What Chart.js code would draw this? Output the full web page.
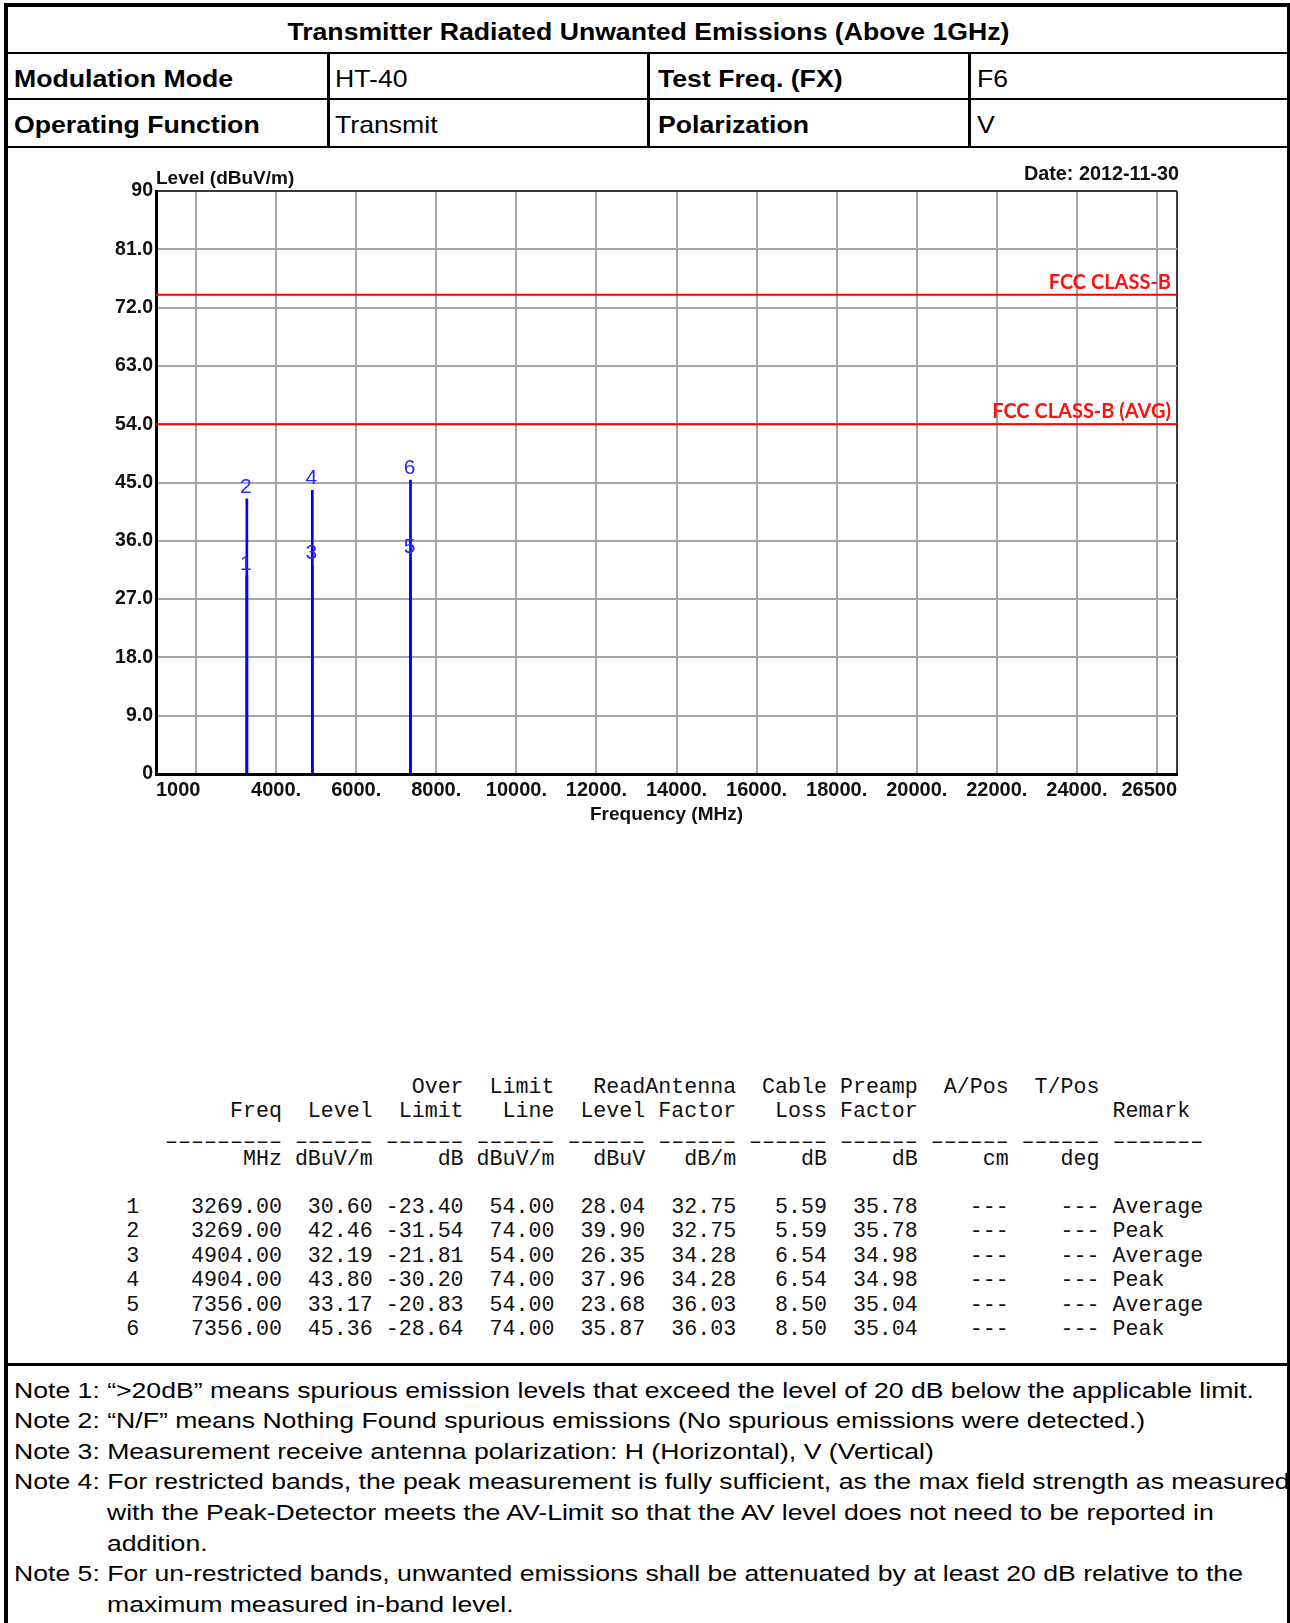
<!DOCTYPE html>
<html>
<head>
<meta charset="utf-8">
<title>Transmitter Radiated Unwanted Emissions (Above 1GHz)</title>
<script src="https://cdn.jsdelivr.net/npm/chart.js@4.4.1/dist/chart.umd.min.js"></script>
<style>
  html, body { margin: 0; padding: 0; background: #fff; }
  #page { position: relative; width: 1290px; height: 1623px; overflow: hidden; background: #fff; }
  .rule { position: absolute; background: #000; z-index: 3; }
  .txt { position: absolute; white-space: pre; color: #000; line-height: 26px; z-index: 2;
         font-family: "Liberation Sans", Arial, sans-serif; }
  .hd-b { font-size: 24px; font-weight: bold; }
  .hd-r { font-size: 24px; }
  .note { font-size: 22px; }
  .mono { font-family: "Liberation Mono", "DejaVu Sans Mono", monospace; font-size: 21.63px; color: #111; }
  #chartBox { position: absolute; left: 0; top: 150px; width: 1290px; height: 700px; z-index: 1; }
</style>
</head>
<body>
<div id="page">
  <div id="chartBox"><canvas id="spectrum" width="1290" height="700"></canvas></div>
</div>
<script>
// ---------- measured emissions ----------
const markerNo     = ['1', '2', '3', '4', '5', '6'];
const freqMHz      = [3269.00, 3269.00, 4904.00, 4904.00, 7356.00, 7356.00];
const levelDbuvm   = [30.60, 42.46, 32.19, 43.80, 33.17, 45.36];
const overLimit    = [-23.40, -31.54, -21.81, -30.20, -20.83, -28.64];
const limitLine    = [54.00, 74.00, 54.00, 74.00, 54.00, 74.00];
const readLevel    = [28.04, 39.90, 26.35, 37.96, 23.68, 35.87];
const antFactor    = [32.75, 32.75, 34.28, 34.28, 36.03, 36.03];
const cableLoss    = [5.59, 5.59, 6.54, 6.54, 8.50, 8.50];
const preampFactor = [35.78, 35.78, 34.98, 34.98, 35.04, 35.04];
const remark       = ['Average', 'Peak', 'Average', 'Peak', 'Average', 'Peak'];

// ---------- limits ----------
const limitPeak = 74;   // FCC CLASS-B
const limitAvg  = 54;   // FCC CLASS-B (AVG)

// ---------- axes ----------
const xTickValues = [1000, 2000, 4000, 6000, 8000, 10000, 12000, 14000, 16000, 18000, 20000, 22000, 24000, 26000, 26500];
const xTickLabels = ['1000', '', '4000.', '6000.', '8000.', '10000.', '12000.', '14000.', '16000.', '18000.', '20000.', '22000.', '24000.', '', '26500'];
const yTickValues = [0, 9, 18, 27, 36, 45, 54, 63, 72, 81, 90];
const yTickLabels = ['0', '9.0', '18.0', '27.0', '36.0', '45.0', '54.0', '63.0', '72.0', '81.0', '90'];

// ---------- page texts ----------
const reportTitle = 'Transmitter Radiated Unwanted Emissions (Above 1GHz)';
const infoRows = [
  ['Modulation Mode', 'HT-40', 'Test Freq. (FX)', 'F6'],
  ['Operating Function', 'Transmit', 'Polarization', 'V']
];
const notes = [
  ['Note 1: \u201c>20dB\u201d means spurious emission levels that exceed the level of 20 dB below the applicable limit.', 0],
  ['Note 2: \u201cN/F\u201d means Nothing Found spurious emissions (No spurious emissions were detected.)', 0],
  ['Note 3: Measurement receive antenna polarization: H (Horizontal), V (Vertical)', 0],
  ['Note 4: For restricted bands, the peak measurement is fully sufficient, as the max field strength as measured', 0],
  ['with the Peak-Detector meets the AV-Limit so that the AV level does not need to be reported in', 1],
  ['addition.', 1],
  ['Note 5: For un-restricted bands, unwanted emissions shall be attenuated by at least 20 dB relative to the', 0],
  ['maximum measured in-band level.', 1]
];

const page = document.getElementById('page');
const FONT = '"Liberation Sans", Arial, sans-serif';

// ---------- frame ----------
function rule(x, y, w, h) {
  const d = document.createElement('div');
  d.className = 'rule';
  Object.assign(d.style, { left: x + 'px', top: y + 'px', width: w + 'px', height: h + 'px' });
  page.appendChild(d);
}
rule(4, 3, 1286, 4);        // top
rule(4, 3, 4, 1620);        // left
rule(1287, 3, 3, 1620);     // right
rule(4, 52, 1286, 2);       // under title
rule(4, 98, 1286, 2);       // between info rows
rule(4, 146, 1286, 2);      // under info rows
rule(327, 52, 3, 96);
rule(647, 52, 3, 96);
rule(968, 52, 3, 96);
rule(4, 1363, 1286, 3);     // above notes

// ---------- text helper: place by baseline ----------
function placeText(text, cls, x, baseline, opt = {}) {
  const d = document.createElement('div');
  d.className = 'txt ' + cls;
  d.textContent = text;
  const mark = document.createElement('span');
  mark.style.cssText = 'display:inline-block;width:0;height:0;vertical-align:baseline';
  d.appendChild(mark);
  page.appendChild(d);
  const baseOff = mark.offsetTop;
  d.style.top = (baseline - baseOff) + 'px';
  const w = d.offsetWidth;
  const k = opt.scaleX || 1;
  if (opt.center) {
    d.style.left = (x - w / 2) + 'px';
    d.style.transformOrigin = 'center center';
  } else {
    d.style.left = x + 'px';
    d.style.transformOrigin = 'left center';
  }
  if (k !== 1) d.style.transform = 'scaleX(' + k + ')';
  return d;
}
function naturalWidth(text, font) {
  const c = document.createElement('canvas').getContext('2d');
  c.font = font;
  return c.measureText(text).width;
}

// header block (the printed form uses a slightly wide face)
const hdScale = 219 / naturalWidth('Modulation Mode', 'bold 24px ' + FONT);
const titleScale = 722 / naturalWidth(reportTitle, 'bold 24px ' + FONT);
placeText(reportTitle, 'hd-b', 648, 39.5, { center: true, scaleX: titleScale });
const colX = [13.5, 335, 657.5, 977];
const rowBase = [86.5, 133];
infoRows.forEach((row, r) => {
  row.forEach((cell, c) => {
    placeText(cell, c % 2 === 0 ? 'hd-b' : 'hd-r', colX[c], rowBase[r], { scaleX: hdScale });
  });
});

// notes
const noteScale = 1240 / naturalWidth(notes[0][0], '22px ' + FONT);
notes.forEach(([line, indent], i) => {
  placeText(line, 'note', indent ? 107 : 13.5, 1397.5 + 30.6 * i, { scaleX: noteScale });
});

// ---------- result table (fixed-width print) ----------
function tableLine(no, freq, cols, rem) {
  return no.padEnd(3) + freq.padStart(9) + cols.map(c => c.padStart(7)).join('') + (rem ? ' ' + rem : '');
}
const tableX = 126.2;
const f2 = v => v.toFixed(2);
const dash = n => '\u2013'.repeat(n);
placeText(tableLine('', '', ['', 'Over', 'Limit', 'Read', 'Antenna', 'Cable', 'Preamp', 'A/Pos', 'T/Pos'], ''), 'mono', tableX, 1093.3);
placeText(tableLine('', 'Freq', ['Level', 'Limit', 'Line', 'Level', 'Factor', 'Loss', 'Factor', '', ''], 'Remark'), 'mono', tableX, 1116.7);
placeText(tableLine('', dash(9), Array(9).fill(dash(6)), dash(7)), 'mono', tableX, 1148);
placeText(tableLine('', 'MHz', ['dBuV/m', 'dB', 'dBuV/m', 'dBuV', 'dB/m', 'dB', 'dB', 'cm', 'deg'], ''), 'mono', tableX, 1165);
markerNo.forEach((no, i) => {
  const line = tableLine(no, f2(freqMHz[i]), [
    f2(levelDbuvm[i]), f2(overLimit[i]), f2(limitLine[i]), f2(readLevel[i]),
    f2(antFactor[i]), f2(cableLoss[i]), f2(preampFactor[i]), '---', '---'
  ], remark[i]);
  placeText(line, 'mono', tableX, 1212.5 + 24.55 * i);
});

// ---------- chart ----------
const xMin = xTickValues[0];
const xMax = xTickValues[xTickValues.length - 1];
const yMin = yTickValues[0];
const yMax = yTickValues[yTickValues.length - 1];

const overlayText = {
  id: 'overlayText',
  afterDatasetsDraw(chart) {
    const { ctx, chartArea: a, scales: { y } } = chart;
    ctx.save();
    // marker numbers above each emission line
    ctx.font = '21px ' + FONT;
    ctx.fillStyle = '#2626ff';
    ctx.textAlign = 'center';
    ctx.textBaseline = 'alphabetic';
    chart.getDatasetMeta(0).data.forEach((bar, i) => {
      ctx.fillText(markerNo[i], bar.x - 1, bar.y - 6);
    });
    // limit names
    ctx.font = 'bold 20px Lato, ' + FONT;
    ctx.fillStyle = '#ff1010';
    ctx.textAlign = 'right';
    ctx.fillText('FCC CLASS-B', a.right - 6, y.getPixelForValue(limitPeak) - 6);
    ctx.fillText('FCC CLASS-B (AVG)', a.right - 6, y.getPixelForValue(limitAvg) - 6);
    // axis captions and date
    ctx.fillStyle = '#111';
    ctx.font = 'bold 19px ' + FONT;
    ctx.textAlign = 'left';
    ctx.fillText('Level (dBuV/m)', a.left, a.top - 7);
    ctx.textAlign = 'center';
    ctx.fillText('Frequency (MHz)', (a.left + a.right) / 2, a.bottom + 46);
    ctx.font = 'bold 19.8px ' + FONT;
    ctx.textAlign = 'right';
    ctx.fillText('Date: 2012-11-30', a.right + 2, a.top - 11);
    ctx.restore();
  }
};

new Chart(document.getElementById('spectrum'), {
  type: 'bar',
  data: {
    datasets: [
      {
        type: 'bar',
        label: 'Level',
        data: freqMHz.map((f, i) => ({ x: f, y: levelDbuvm[i] })),
        backgroundColor: '#0000ff',
        borderWidth: 0,
        barThickness: 2,
        grouped: false,
        order: 2
      },
      {
        type: 'line',
        label: 'FCC CLASS-B',
        data: [{ x: xMin, y: limitPeak }, { x: xMax, y: limitPeak }],
        borderColor: '#ff0000',
        borderWidth: 2,
        pointRadius: 0,
        fill: false,
        order: 1
      },
      {
        type: 'line',
        label: 'FCC CLASS-B (AVG)',
        data: [{ x: xMin, y: limitAvg }, { x: xMax, y: limitAvg }],
        borderColor: '#ff0000',
        borderWidth: 2,
        pointRadius: 0,
        fill: false,
        order: 1
      }
    ]
  },
  options: {
    responsive: false,
    animation: false,
    devicePixelRatio: 1,
    events: [],
    layout: { padding: { top: 41, right: 113, left: 0, bottom: 0 } },
    plugins: { legend: { display: false }, tooltip: { enabled: false } },
    scales: {
      x: {
        type: 'linear',
        min: xMin,
        max: xMax,
        offset: false,
        afterBuildTicks: s => { s.ticks = xTickValues.map(v => ({ value: v })); },
        afterFit: s => { s.height = 76; },
        ticks: {
          callback: (v, i) => xTickLabels[i],
          autoSkip: false,
          maxRotation: 0,
          minRotation: 0,
          align: 'inner',
          padding: 4,
          color: '#111',
          font: { family: FONT, size: 20, weight: 'bold' }
        },
        grid: {
          offset: false,
          drawTicks: false,
          lineWidth: 2,
          color: c => (c.tick && c.tick.value === xMax) ? '#3a3a3a' : '#a6a6a6'
        },
        border: { display: true, color: '#000', width: 3 }
      },
      y: {
        type: 'linear',
        min: yMin,
        max: yMax,
        afterBuildTicks: s => { s.ticks = yTickValues.map(v => ({ value: v })); },
        afterFit: s => { s.width = 156; },
        ticks: {
          callback: (v, i) => yTickLabels[i],
          autoSkip: false,
          padding: 3,
          color: '#111',
          font: { family: FONT, size: 19.5, weight: 'bold' }
        },
        grid: {
          drawTicks: false,
          lineWidth: 2,
          color: c => (c.tick && c.tick.value === yMax) ? '#3a3a3a' : '#a6a6a6'
        },
        border: { display: true, color: '#000', width: 3 }
      }
    }
  },
  plugins: [overlayText]
});
</script>
</body>
</html>
